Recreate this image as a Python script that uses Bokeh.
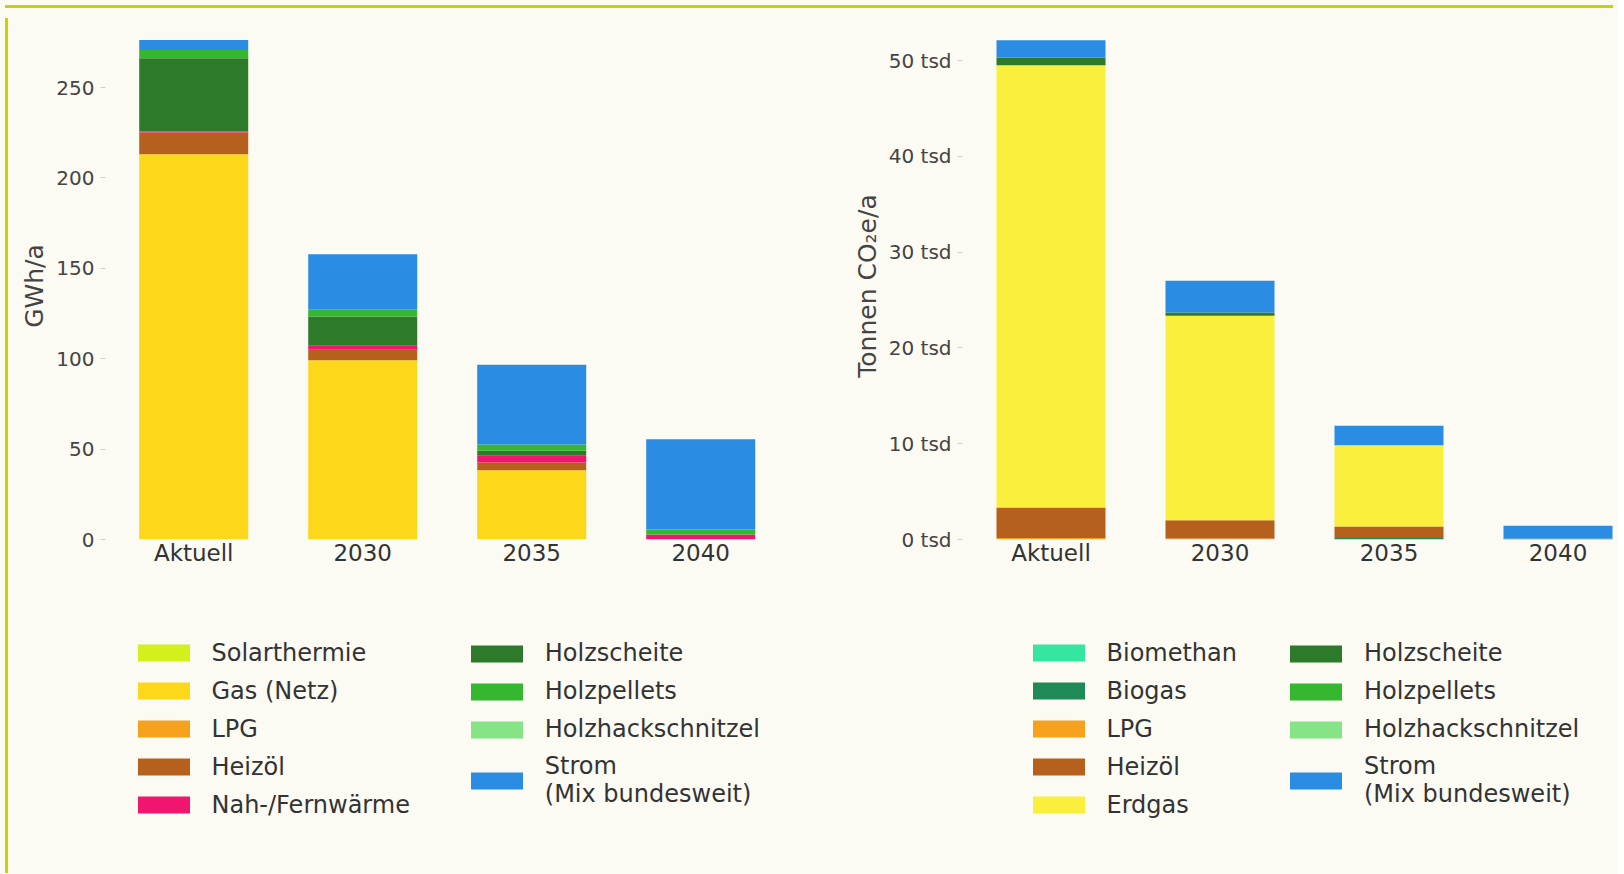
from bokeh.plotting import figure
from bokeh.models import (ColumnDataSource, Range1d, FixedTicker, Legend, LegendItem, Div)
from bokeh.layouts import row, column
from bokeh.embed import file_html
from bokeh.resources import INLINE

# ---------------- data ----------------
categories = ["Aktuell", "2030", "2035", "2040"]

# Energy demand (GWh/a)
energy_series = ["Solarthermie", "Gas (Netz)", "LPG", "Heizöl", "Nah-/Fernwärme",
                 "Holzscheite", "Holzpellets", "Holzhackschnitzel", "Strom\n(Mix bundesweit)"]
solarthermie = [0, 0, 0, 0]
gas_netz = [213.1, 99.2, 38.3, 0]
lpg_e = [0, 0, 0, 0]
heizoel_e = [12.0, 5.8, 4.3, 0]
nah_fernwaerme = [0.6, 2.2, 3.7, 2.8]
holzscheite_e = [40.5, 16.2, 2.8, 0]
holzpellets_e = [4.6, 4.0, 3.5, 2.8]
holzhack_e = [0, 0, 0, 0]
strom_e = [5.5, 30.4, 44.1, 49.8]
energy_ticks = [0, 50, 100, 150, 200, 250]

# Emissions (t CO2e/a)
emission_series = ["Biomethan", "Biogas", "LPG", "Heizöl", "Erdgas",
                   "Holzscheite", "Holzpellets", "Holzhackschnitzel", "Strom\n(Mix bundesweit)"]
biomethan = [0, 0, 0, 0]
biogas = [0, 0, 157, 104]
lpg_t = [157, 100, 0, 0]
heizoel_t = [3184, 1910, 1200, 0]
erdgas = [46170, 21336, 8486, 0]
holzscheite_t = [804, 344, 0, 0]
holzpellets_t = [0, 0, 0, 0]
holzhack_t = [0, 0, 0, 0]
strom_t = [1806, 3309, 2025, 1326]
emission_ticks = [0, 10000, 20000, 30000, 40000, 50000]
emission_tick_labels = ["0 tsd", "10 tsd", "20 tsd", "30 tsd", "40 tsd", "50 tsd"]

energy_colors = ["#d4f01c", "#fdd719", "#f7a21e", "#b5601c", "#f2156e",
                 "#2d7a2b", "#35b72f", "#86e386", "#2b8ce3"]
emission_colors = ["#34e6a0", "#1f8a57", "#f7a21e", "#b5601c", "#f9ef3c",
                   "#2d7a2b", "#35b72f", "#86e386", "#2b8ce3"]

BG = "#fbfbf3"
FONT = "DejaVu Sans"
TXT = "#333333"
BORDER = "#c8d400"


def make_chart(series_names, series_values, colors, ymax, xstart, xend, ticks,
               overrides, ylabel, min_left, frame_w, min_right, leg_a, leg_b):
    keys = ["s%d" % i for i in range(len(series_names))]
    data = {"x": list(range(len(categories)))}
    for k, v in zip(keys, series_values):
        data[k] = v
    src = ColumnDataSource(data)

    p = figure(frame_width=frame_w, frame_height=507,
               min_border_left=min_left, min_border_right=min_right,
               min_border_top=19, min_border_bottom=63,
               x_range=Range1d(xstart, xend), y_range=Range1d(0, ymax),
               output_backend="svg", toolbar_location=None,
               background_fill_color=BG, border_fill_color=BG)
    p.outline_line_color = None
    p.grid.visible = False

    p.vbar_stack(keys, x="x", width=0.645, source=src, color=colors, line_color=None)

    # x axis
    p.xaxis.ticker = FixedTicker(ticks=list(range(len(categories))))
    p.xaxis.major_label_overrides = {i: c for i, c in enumerate(categories)}
    p.xaxis.axis_line_color = None
    p.xaxis.major_tick_line_color = None
    p.xaxis.minor_tick_line_color = None
    p.xaxis.major_tick_out = 0
    p.xaxis.major_label_standoff = 0
    p.xaxis.major_label_text_font = FONT
    p.xaxis.major_label_text_font_size = "23px"
    p.xaxis.major_label_text_color = TXT

    # y axis
    p.yaxis.ticker = FixedTicker(ticks=ticks)
    if overrides:
        p.yaxis.major_label_overrides = overrides
    p.yaxis.axis_line_color = None
    p.yaxis.major_tick_line_color = "#cfcfcf"
    p.yaxis.major_tick_out = 5
    p.yaxis.major_tick_in = 0
    p.yaxis.minor_tick_line_color = None
    p.yaxis.major_label_standoff = 6
    p.yaxis.major_label_text_font = FONT
    p.yaxis.major_label_text_font_size = "20px"
    p.yaxis.major_label_text_color = "#444444"
    p.yaxis.axis_label = ylabel
    p.yaxis.axis_label_text_font = FONT
    p.yaxis.axis_label_text_font_size = "25px"
    p.yaxis.axis_label_text_font_style = "normal"
    p.yaxis.axis_label_text_color = "#444444"
    p.yaxis.axis_label_standoff = 4

    # legend panel (own figure below the chart; its bars lie outside its view)
    total_w = min_left + frame_w + min_right
    q = figure(frame_width=total_w, frame_height=266,
               min_border_left=0, min_border_right=0, min_border_top=0, min_border_bottom=0,
               x_range=Range1d(-100, -99), y_range=Range1d(-2 * ymax, -ymax),
               x_axis_location=None, y_axis_location=None,
               output_backend="svg", toolbar_location=None,
               background_fill_color=BG, border_fill_color=BG)
    q.outline_line_color = None
    q.grid.visible = False
    rs = q.vbar_stack(keys, x="x", width=0.645, source=src, color=colors, line_color=None)

    items = [LegendItem(label=n, renderers=[r]) for n, r in zip(series_names, rs)]

    def leg(its, loc):
        lg = Legend(items=its, location=loc, orientation="vertical",
                    glyph_width=65, glyph_height=21, label_standoff=16,
                    label_height=30, spacing=8, padding=0, margin=0,
                    border_line_color=None, background_fill_alpha=0,
                    label_text_font=FONT, label_text_font_size="24px",
                    label_text_color=TXT, label_text_line_height=1.2)
        q.add_layout(lg, "center")

    leg(items[:5], leg_a)
    leg(items[5:], leg_b)
    return column(p, q, spacing=0, styles={"background-color": BG})


left = make_chart(energy_series,
                  [solarthermie, gas_netz, lpg_e, heizoel_e, nah_fernwaerme,
                   holzscheite_e, holzpellets_e, holzhack_e, strom_e],
                  energy_colors, 507 / 1.808, -0.522, -0.522 + 702 / 169.0,
                  energy_ticks, None, "GWh/a", 92, 702, 12,
                  (117.5, 48.5), (450.8, 60))

right = make_chart(emission_series,
                   [biomethan, biogas, lpg_t, heizoel_t, erdgas,
                    holzscheite_t, holzpellets_t, holzhack_t, strom_t],
                   emission_colors, 507 / 0.00958, -0.5237, -0.5237 + 656 / 169.0,
                   emission_ticks, {t: l for t, l in zip(emission_ticks, emission_tick_labels)},
                   "Tonnen CO₂e/a", 143, 656, 0,
                   (206.5, 48.5), (464, 60))

top_bar = Div(width=1608, height=3, styles={"background-color": BORDER})
left_bar = Div(width=3, height=855, styles={"background-color": BORDER})
layout = column(top_bar, row(left_bar, left, right, spacing=0), spacing=0,
                styles={"background-color": BG})

open("out.html", "w").write(file_html(layout, INLINE))
